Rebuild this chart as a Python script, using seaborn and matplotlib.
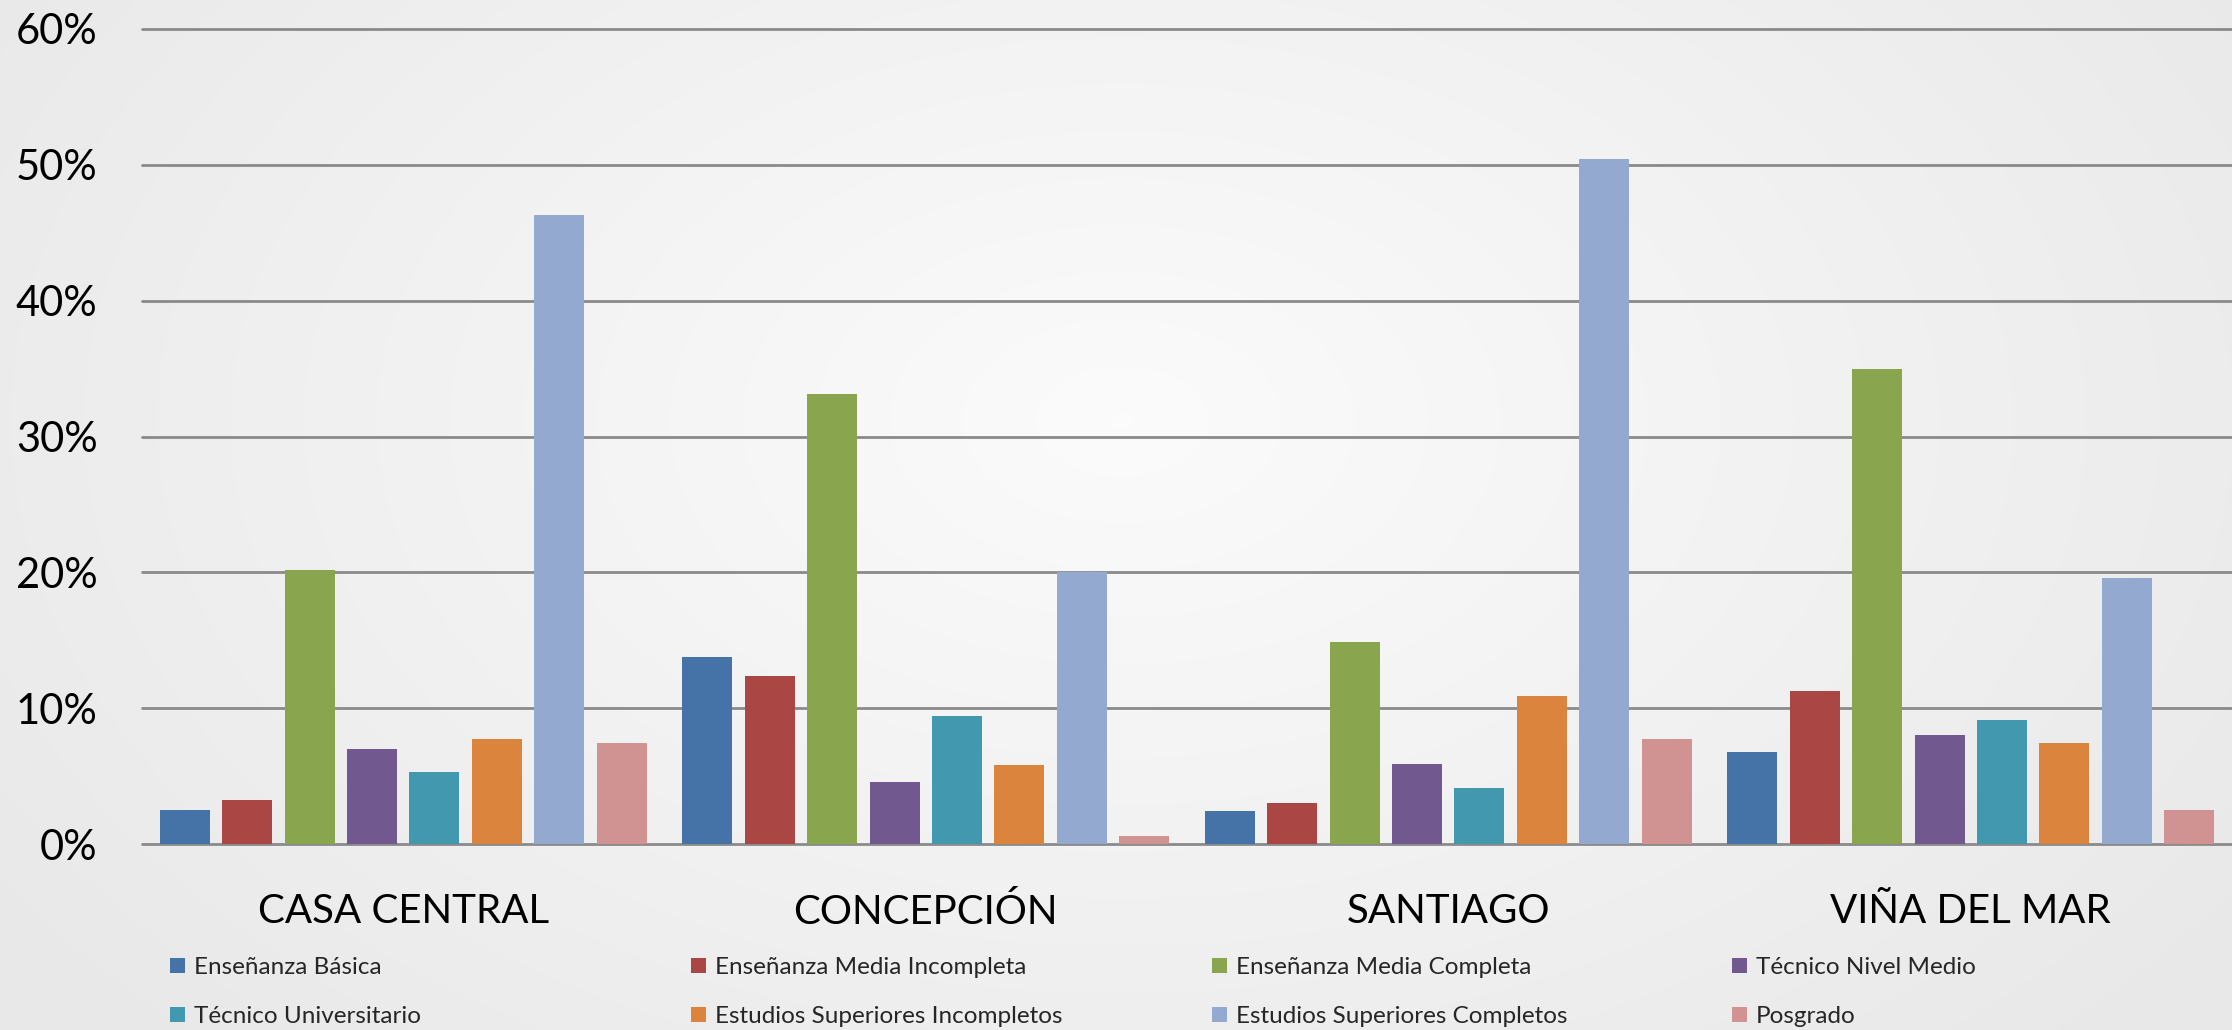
import numpy as np
import pandas as pd
import matplotlib
matplotlib.use("Agg")
import matplotlib.pyplot as plt
import seaborn as sns
from matplotlib.ticker import PercentFormatter, MultipleLocator

# ---- data (percent) ----
sedes = ["CASA CENTRAL", "CONCEPCIÓN", "SANTIAGO", "VIÑA DEL MAR"]
niveles = ["Enseñanza Básica", "Enseñanza Media Incompleta", "Enseñanza Media Completa",
           "Técnico Nivel Medio", "Técnico Universitario", "Estudios Superiores Incompletos",
           "Estudios Superiores Completos", "Posgrado"]
ensenanza_basica = [2.5, 13.75, 2.45, 6.75]
media_incompleta = [3.25, 12.4, 3.0, 11.3]
media_completa = [20.2, 33.1, 14.9, 35.0]
tecnico_nivel_medio = [7.0, 4.55, 5.9, 8.0]
tecnico_universitario = [5.3, 9.45, 4.15, 9.15]
sup_incompletos = [7.75, 5.85, 10.9, 7.4]
sup_completos = [46.3, 20.0, 50.4, 19.6]
posgrado = [7.4, 0.6, 7.7, 2.5]
colores = ["#4572A7", "#AA4643", "#89A54E", "#71588F",
           "#4198AF", "#DB843D", "#93A9CF", "#D19392"]
y_ticks = [0, 10, 20, 30, 40, 50, 60]

series = [ensenanza_basica, media_incompleta, media_completa, tecnico_nivel_medio,
          tecnico_universitario, sup_incompletos, sup_completos, posgrado]
rows = []
for nivel, vals in zip(niveles, series):
    for sede, v in zip(sedes, vals):
        rows.append({"sede": sede, "nivel": nivel, "pct": v})
df = pd.DataFrame(rows)

sns.set_theme(style="white")
plt.rcParams["font.family"] = ["Lato", "DejaVu Sans"]

W, H = 2232, 1030
fig = plt.figure(figsize=(W / 100, H / 100), dpi=100)

# background radial gradient
bg = fig.add_axes([0, 0, 1, 1], zorder=-10)
yy, xx = np.mgrid[0:H:4, 0:W:4]
r = np.sqrt(((xx - 1120) / 1400.0) ** 2 + ((yy - 420) / 900.0) ** 2)
val = 0.985 - 0.075 * np.clip(r, 0, 1)
bg.imshow(np.dstack([val, val, val]), aspect="auto", extent=[0, 1, 0, 1], interpolation="bilinear")
bg.set_axis_off()

ax = fig.add_axes([142 / W, 186 / H, 1 - 142 / W, (844 - 29) / H])
ax.set_facecolor("none")

sns.barplot(data=df, x="sede", y="pct", hue="nivel", hue_order=niveles, order=sedes,
            palette=colores, saturation=1, width=0.956, gap=0.2, ax=ax, errorbar=None,
            linewidth=0, edgecolor="none")

ax.set_xlim(-0.5, 3.5)
ax.set_ylim(0, 60)
ax.yaxis.set_major_locator(MultipleLocator(10))
ax.set_yticks(y_ticks)
ax.yaxis.set_major_formatter(PercentFormatter(100, decimals=0))
ax.set_xlabel("")
ax.set_ylabel("")
for s in ax.spines.values():
    s.set_visible(False)
for yv in y_ticks:
    ax.axhline(yv, color="#8a8a8a", lw=2.0, zorder=0.5, clip_on=False)
ax.tick_params(axis="y", length=0, pad=32, labelsize=30, labelcolor="black")
ax.tick_params(axis="x", length=0, pad=35, labelsize=29, labelcolor="black")

handles, labels = ax.get_legend_handles_labels()
ax.get_legend().remove()

col_x = [170, 691, 1212, 1732]
for k in range(4):
    idx = [k, k + 4]
    leg = fig.legend([handles[i] for i in idx], [labels[i] for i in idx],
                     loc="center left", bbox_to_anchor=(col_x[k] / W, 1 - 992 / H),
                     frameon=False, fontsize=17.5, handlelength=0.62, handleheight=0.62,
                     handletextpad=0.35, labelspacing=1.15, borderpad=0, borderaxespad=0)

fig.savefig("out.png", dpi=100)
